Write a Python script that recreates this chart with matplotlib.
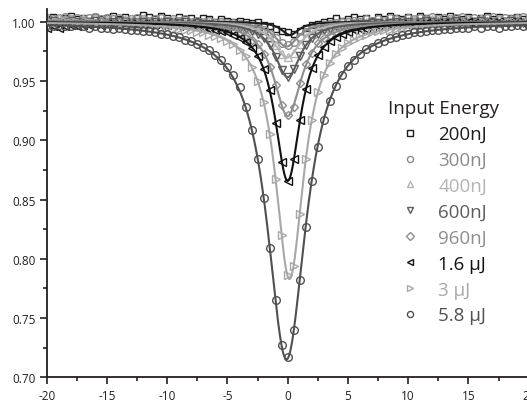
import numpy as np
import matplotlib
matplotlib.use("Agg")
import matplotlib.pyplot as plt
from matplotlib.lines import Line2D
from matplotlib.ticker import MultipleLocator

plt.rcParams['font.family'] = ['Open Sans', 'DejaVu Sans']

# ---------------- data ----------------
x_pos = [-20.0, -19.5, -19.0, -18.5, -18.0, -17.5, -17.0, -16.5, -16.0, -15.5,
         -15.0, -14.5, -14.0, -13.5, -13.0, -12.5, -12.0, -11.5, -11.0, -10.5,
         -10.0, -9.5, -9.0, -8.5, -8.0, -7.5, -7.0, -6.5, -6.0, -5.5,
         -5.0, -4.5, -4.0, -3.5, -3.0, -2.5, -2.0, -1.5, -1.0, -0.5,
         0.0, 0.5, 1.0, 1.5, 2.0, 2.5, 3.0, 3.5, 4.0, 4.5,
         5.0, 5.5, 6.0, 6.5, 7.0, 7.5, 8.0, 8.5, 9.0, 9.5,
         10.0, 10.5, 11.0, 11.5, 12.0, 12.5, 13.0, 13.5, 14.0, 14.5,
         15.0, 15.5, 16.0, 16.5, 17.0, 17.5, 18.0, 18.5, 19.0, 19.5,
         20.0]

t_200nJ = [1.002, 1.004, 1.001, 1.003, 1.005, 1.002, 1.003, 1.001, 1.004, 1.002,
           1.003, 1.005, 1.002, 1.004, 1.001, 1.003, 1.006, 1.004, 1.002, 1.005,
           1.003, 1.001, 1.004, 1.002, 1.003, 1.001, 1.003, 1.002, 1.000, 1.002,
           1.001, 1.000, 1.001, 1.000, 0.999, 1.000, 0.997, 0.996, 0.994, 0.992,
           0.991, 0.990, 0.992, 0.995, 0.997, 0.998, 1.000, 1.001, 1.003, 1.001,
           1.002, 1.004, 1.002, 1.003, 1.001, 1.004, 1.002, 1.005, 1.003, 1.002,
           1.004, 1.002, 1.005, 1.003, 1.001, 1.004, 1.002, 1.005, 1.003, 1.002,
           1.004, 1.001, 1.003, 1.005, 1.002, 1.004, 1.001, 1.003, 1.004, 1.002,
           1.003]
t_300nJ = [1.003, 1.002, 1.003, 1.004, 1.002, 1.003, 1.002, 1.003, 1.004, 1.002,
           1.003, 1.002, 1.003, 1.001, 1.002, 1.003, 1.002, 1.001, 1.002, 1.003,
           1.001, 1.002, 1.001, 1.002, 1.000, 1.001, 1.000, 1.001, 0.999, 1.000,
           0.999, 0.999, 0.998, 0.997, 0.996, 0.995, 0.993, 0.990, 0.986, 0.982,
           0.980, 0.983, 0.987, 0.991, 0.994, 0.996, 0.997, 0.998, 0.999, 1.000,
           1.000, 1.001, 1.000, 1.002, 1.001, 1.002, 1.001, 1.003, 1.002, 1.001,
           1.003, 1.002, 1.003, 1.002, 1.004, 1.002, 1.003, 1.002, 1.003, 1.004,
           1.002, 1.003, 1.002, 1.003, 1.004, 1.002, 1.003, 1.002, 1.003, 1.004,
           1.002]
t_400nJ = [1.002, 1.001, 1.003, 1.001, 1.002, 1.000, 1.002, 1.001, 1.003, 1.001,
           1.002, 1.000, 1.001, 1.002, 1.001, 1.000, 1.002, 1.001, 1.000, 1.001,
           1.000, 1.001, 1.000, 0.999, 1.000, 0.999, 1.000, 0.999, 0.998, 0.999,
           0.998, 0.997, 0.997, 0.996, 0.995, 0.993, 0.990, 0.986, 0.980, 0.973,
           0.970, 0.974, 0.981, 0.987, 0.990, 0.993, 0.995, 0.996, 0.997, 0.998,
           0.998, 0.999, 0.999, 1.000, 0.999, 1.000, 1.001, 1.000, 1.001, 1.000,
           1.001, 1.002, 1.000, 1.001, 1.002, 1.001, 1.000, 1.002, 1.001, 1.000,
           1.002, 1.001, 1.002, 1.000, 1.001, 1.002, 1.001, 1.000, 1.002, 1.001,
           1.001]
t_600nJ = [1.000, 1.001, 0.999, 1.000, 1.001, 1.000, 0.999, 1.000, 1.001, 1.000,
           0.999, 1.000, 1.001, 1.000, 0.999, 1.000, 1.000, 0.999, 1.000, 0.999,
           1.000, 0.999, 0.999, 1.000, 0.998, 0.999, 0.998, 0.998, 0.997, 0.997,
           0.996, 0.996, 0.995, 0.994, 0.992, 0.990, 0.986, 0.980, 0.970, 0.959,
           0.953, 0.960, 0.971, 0.980, 0.986, 0.990, 0.993, 0.994, 0.996, 0.996,
           0.997, 0.998, 0.998, 0.998, 0.999, 0.999, 0.998, 0.999, 1.000, 0.999,
           1.000, 0.999, 1.000, 1.001, 1.000, 0.999, 1.000, 1.000, 1.001, 1.000,
           0.999, 1.000, 1.001, 1.000, 1.000, 0.999, 1.000, 1.001, 1.000, 0.999,
           1.000]
t_960nJ = [1.001, 0.999, 1.000, 1.002, 1.000, 0.999, 1.001, 1.000, 0.999, 1.001,
           1.000, 0.999, 1.000, 1.001, 0.999, 1.000, 0.999, 1.000, 0.998, 0.999,
           0.998, 0.999, 0.998, 0.997, 0.998, 0.997, 0.997, 0.996, 0.996, 0.995,
           0.994, 0.993, 0.991, 0.989, 0.985, 0.981, 0.973, 0.962, 0.947, 0.930,
           0.921, 0.928, 0.948, 0.964, 0.974, 0.982, 0.986, 0.989, 0.992, 0.993,
           0.994, 0.995, 0.996, 0.997, 0.997, 0.998, 0.998, 0.998, 0.999, 0.998,
           0.999, 1.000, 0.999, 1.000, 0.999, 1.001, 1.000, 0.999, 1.000, 1.001,
           1.000, 0.999, 1.000, 1.001, 1.000, 0.999, 1.001, 1.000, 1.001, 1.000,
           1.000]
t_1p6uJ = [0.995, 0.996, 0.995, 0.996, 0.997, 0.996, 0.997, 0.997, 0.998, 0.997,
           0.998, 0.998, 0.997, 0.998, 0.998, 0.997, 0.998, 0.997, 0.998, 0.997,
           0.997, 0.997, 0.996, 0.996, 0.996, 0.995, 0.995, 0.994, 0.993, 0.992,
           0.991, 0.989, 0.986, 0.983, 0.978, 0.971, 0.960, 0.942, 0.915, 0.882,
           0.866, 0.884, 0.917, 0.943, 0.961, 0.972, 0.979, 0.984, 0.987, 0.990,
           0.991, 0.993, 0.994, 0.994, 0.995, 0.996, 0.996, 0.997, 0.997, 0.998,
           0.997, 0.998, 0.998, 0.999, 0.998, 0.999, 0.999, 0.998, 0.999, 0.999,
           1.000, 0.999, 0.999, 1.000, 0.999, 1.000, 0.999, 1.000, 1.000, 0.999,
           1.000]
t_3uJ = [1.001, 0.999, 1.000, 1.001, 0.999, 1.000, 0.998, 1.000, 0.999, 0.998,
         0.999, 0.997, 0.998, 0.997, 0.998, 0.996, 0.997, 0.996, 0.996, 0.995,
         0.995, 0.994, 0.994, 0.993, 0.993, 0.991, 0.991, 0.989, 0.988, 0.986,
         0.984, 0.981, 0.976, 0.971, 0.962, 0.950, 0.932, 0.905, 0.867, 0.820,
         0.786, 0.794, 0.838, 0.884, 0.917, 0.941, 0.955, 0.965, 0.973, 0.978,
         0.982, 0.985, 0.987, 0.989, 0.991, 0.992, 0.993, 0.993, 0.994, 0.995,
         0.995, 0.996, 0.996, 0.997, 0.997, 0.997, 0.998, 0.997, 0.998, 0.998,
         0.999, 0.998, 0.998, 0.999, 0.999, 0.998, 0.999, 1.000, 0.999, 0.999,
         1.000]
t_5p8uJ = [0.997, 0.996, 0.997, 0.996, 0.996, 0.997, 0.996, 0.995, 0.996, 0.995,
           0.995, 0.994, 0.995, 0.994, 0.993, 0.993, 0.992, 0.992, 0.991, 0.990,
           0.990, 0.988, 0.987, 0.985, 0.984, 0.981, 0.979, 0.976, 0.972, 0.968,
           0.962, 0.955, 0.945, 0.928, 0.909, 0.884, 0.851, 0.809, 0.765, 0.727,
           0.717, 0.740, 0.782, 0.827, 0.866, 0.894, 0.917, 0.933, 0.946, 0.955,
           0.963, 0.968, 0.973, 0.977, 0.979, 0.982, 0.984, 0.986, 0.987, 0.989,
           0.990, 0.991, 0.991, 0.992, 0.993, 0.993, 0.994, 0.994, 0.995, 0.995,
           0.995, 0.996, 0.995, 0.996, 0.996, 0.995, 0.996, 0.996, 0.997, 0.996,
           0.996]

labels = ["200nJ", "300nJ", "400nJ", "600nJ", "960nJ", "1.6 \u00b5J", "3 \u00b5J", "5.8 \u00b5J"]
series = [t_200nJ, t_300nJ, t_400nJ, t_600nJ, t_960nJ, t_1p6uJ, t_3uJ, t_5p8uJ]

# ---------------- style ----------------
colors = ['#1c1c1c', '#8a8a8a', '#b4b4b4', '#5c5c5c', '#8e8e8e', '#111111', '#a8a8a8', '#505050']
markers = ['s', 'o', '^', 'v', 'D', '<', '>', 'o']
msizes = [5, 5.5, 5.5, 5.5, 4.5, 5.5, 5.5, 5.5]


def lorentz_fit(x, y):
    """Least-squares Lorentzian dip fit (baseline 1) of the measured points."""
    x = np.asarray(x)[None, None, :]
    d = 1.0 - np.asarray(y)[None, None, :]
    cs = np.linspace(-1.0, 1.0, 41)[:, None, None]
    ws = np.linspace(0.5, 4.0, 141)[None, :, None]
    L = 1.0 / (1.0 + ((x - cs) / ws) ** 2)
    A = (d * L).sum(-1, keepdims=True) / (L * L).sum(-1, keepdims=True)
    sse = ((d - A * L) ** 2).sum(-1)
    i, j = np.unravel_index(np.argmin(sse), sse.shape)
    return cs[i, 0, 0], ws[0, j, 0], A[i, j, 0]


W, H = 527, 402
fig = plt.figure(figsize=(W / 100, H / 100), dpi=100)
ax = fig.add_axes([46.7 / W, 23.6 / H, (528.7 - 46.7) / W, (391.6 - 23.6) / H])

xf = np.linspace(min(x_pos), max(x_pos), 1601)
for vals, c, m, ms in zip(series, colors, markers, msizes):
    ax.plot(x_pos, vals, ls='none', marker=m, ms=ms, mfc='none', mec=c, mew=1.0, zorder=2)
for vals, c in zip(series, colors):
    c0, w0, a0 = lorentz_fit(x_pos, vals)
    ax.plot(xf, 1.0 - a0 / (1.0 + ((xf - c0) / w0) ** 2), color=c, lw=1.5, zorder=3)

ax.set_xlim(-20, 20)
ax.set_ylim(0.70, 1.0104)
ax.xaxis.set_major_locator(MultipleLocator(5))
ax.xaxis.set_minor_locator(MultipleLocator(2.5))
ax.yaxis.set_major_locator(MultipleLocator(0.05))
ax.yaxis.set_minor_locator(MultipleLocator(0.025))
ax.yaxis.set_major_formatter(matplotlib.ticker.FormatStrFormatter('%.2f'))
ax.xaxis.set_major_formatter(matplotlib.ticker.FormatStrFormatter('%d'))

for s in ['top', 'right']:
    ax.spines[s].set_visible(False)
for s in ['left', 'bottom']:
    ax.spines[s].set_linewidth(1.3)
    ax.spines[s].set_color('#231f20')
ax.tick_params(which='major', direction='out', length=5, width=1.2, color='#231f20',
               labelsize=8.5, labelcolor='#231f20', pad=3)
ax.tick_params(which='minor', direction='out', length=3, width=1.2, color='#231f20')

handles = [Line2D([], [], ls='none', marker=m, ms=ms * 0.8, mfc='none', mec=c, mew=1.0)
           for m, c, ms in zip(markers, colors, msizes)]
leg = ax.legend(handles, labels, title='Input Energy', frameon=False, fontsize=13.5,
                title_fontsize=13.5, labelcolor=colors, handlelength=1.0, handletextpad=1.0,
                labelspacing=0.42, borderpad=0, loc='upper left',
                bbox_to_anchor=(379 / W, 1 - 91 / H), bbox_transform=fig.transFigure)
leg.get_title().set_color('#231f20')

fig.savefig('out.png', dpi=100)
